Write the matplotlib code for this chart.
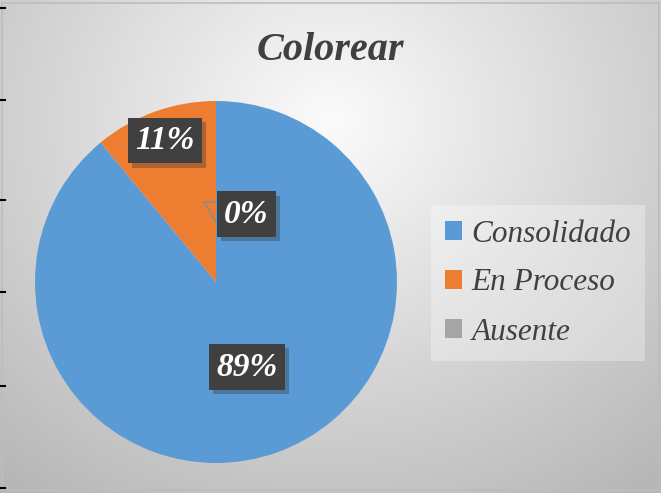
import numpy as np
import matplotlib
matplotlib.use('Agg')
import matplotlib.pyplot as plt
import matplotlib.patheffects as pe
from matplotlib.patches import Rectangle
from matplotlib.lines import Line2D

# datos
categorias = ['Consolidado', 'En Proceso', 'Ausente']
porcentajes = [89, 11, 0]
colores = ['#5B9BD5', '#ED7D31', '#A5A5A5']
titulo = 'Colorear'

# posicion de las etiquetas (distancia relativa, angulo en grados); None = centro de la porcion
etiq_pos = [(0.50, None), (0.83, None), (0.41, 66)]

W, H = 661, 493
fig = plt.figure(figsize=(W / 100, H / 100), dpi=100)

# fondo degradado radial
bg = fig.add_axes([0, 0, 1, 1], zorder=-10)
yy, xx = np.mgrid[0:H, 0:W]
d = np.sqrt(((xx - 330) / 420.0) ** 2 + ((yy - 120) / 380.0) ** 2)
val = np.clip(0.985 - 0.22 * d, 0, 1)
bg.imshow(np.dstack([val, val, val]), extent=(0, W, H, 0), aspect='auto')
bg.set_xlim(0, W)
bg.set_ylim(H, 0)
bg.axis('off')
# borde del grafico y marcas de la hoja
bg.add_patch(Rectangle((2, 3), W - 4, H - 6, fill=False, edgecolor='#bdbdbd', lw=1.2))
for yt in [8, 100, 200, 292, 386, 488]:
    bg.add_line(Line2D([0, 5], [yt, yt], color='black', lw=1.5))

# pastel
R = 181
cx, cy = 216, 282
ax = fig.add_axes([(cx - R) / W, (H - cy - R) / H, 2 * R / W, 2 * R / H])
wedges, _ = ax.pie(porcentajes, colors=colores, startangle=90, counterclock=False,
                   radius=1, wedgeprops=dict(linewidth=0))
ax.set_xlim(-1, 1)
ax.set_ylim(-1, 1)
ax.set_aspect('equal')
ax.axis('off')

# etiquetas de datos
for w, p, (dist, ang) in zip(wedges, porcentajes, etiq_pos):
    if ang is None:
        ang = (w.theta1 + w.theta2) / 2.0
    x = dist * np.cos(np.radians(ang))
    y = dist * np.sin(np.radians(ang))
    t = ax.text(x, y, '%d%%' % p, ha='center', va='center',
                fontsize=24, fontweight='bold', style='italic', family='Liberation Serif',
                color='white',
                bbox=dict(boxstyle='square,pad=0.22', facecolor='#404040',
                          edgecolor='none'), zorder=5)
    t.get_bbox_patch().set_path_effects(
        [pe.SimplePatchShadow(offset=(3, -3), shadow_rgbFace='#333333', alpha=0.35),
         pe.Normal()])

# linea guia de la etiqueta 0%
ax.plot([0, -0.066, 0], [0.442, 0.442, 0.331], color='#8c8c8c', lw=1.2, zorder=3)

# titulo
fig.text(330 / W, 1 - 50 / H, titulo, ha='center', va='center', fontsize=29,
         fontweight='bold', style='italic', family='Liberation Serif', color='#404040')

# leyenda
handles = [Rectangle((0, 0), 1, 1, facecolor=c, edgecolor='none') for c in colores]
leg = fig.legend(handles, categorias, loc='center left',
                 bbox_to_anchor=(431 / W, 1 - 283 / H), frameon=True,
                 prop=dict(family='Liberation Serif', style='italic', size=22.5),
                 handlelength=0.55, handleheight=0.55, handletextpad=0.3,
                 labelspacing=0.64, borderpad=0.45, borderaxespad=0,
                 fancybox=False, facecolor='white', framealpha=0.3, edgecolor='none')
for t in leg.get_texts():
    t.set_color('#404040')

fig.savefig('out.png', dpi=100)
